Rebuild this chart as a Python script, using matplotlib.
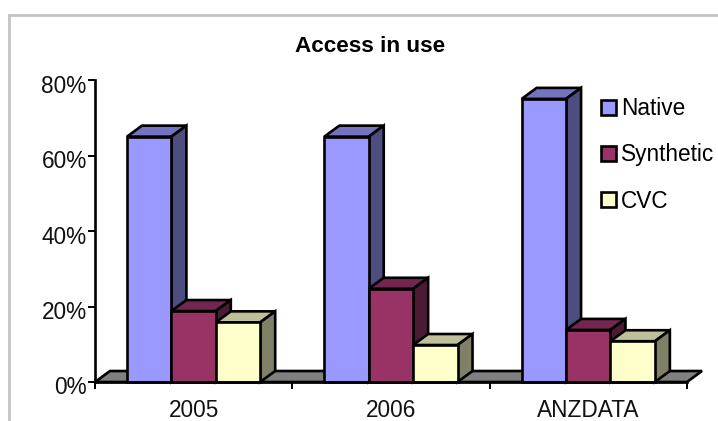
import matplotlib
matplotlib.use("Agg")
import matplotlib.pyplot as plt
from matplotlib.lines import Line2D
from matplotlib.patches import Polygon, Rectangle
from matplotlib.transforms import ScaledTranslation

categories = ["2005", "2006", "ANZDATA"]
series_names = ["Native", "Synthetic", "CVC"]
native = [65, 65, 75]
synthetic = [18.8, 24.7, 13.8]
cvc = [15.8, 9.8, 10.8]
y_ticks = [0, 20, 40, 60, 80]

front_colors = ["#9999FF", "#993366", "#FFFFCC"]
top_colors = ["#7373BF", "#732650", "#BFBF99"]
side_colors = ["#4D4D80", "#4D1A33", "#808066"]

W, H = 718, 421
plt.rcParams["font.family"] = ["Liberation Sans", "DejaVu Sans"]
fig = plt.figure(figsize=(W / 100, H / 100), dpi=100)
ax = fig.add_axes([95 / W, 1 - 382 / H, (687 - 95) / W, (382 - 80) / H])
ax.set_xlim(0, 3)
ax.set_ylim(0, 80)
ax.patch.set_visible(False)

# Oblique depth of the pseudo-3D boxes, in data units
depth_x = 15 / (592 / 3)
depth_y = 11 / (302 / 80)
bar_w = 44.4 / (592 / 3)
lead = 32 / (592 / 3)
edge = dict(edgecolor="black", linewidth=1.9, joinstyle="miter", clip_on=False)

# Floor of the chart
ax.add_patch(Polygon([(0, 0), (depth_x, depth_y), (3 + depth_x, depth_y), (3, 0)],
                     facecolor="#808080", **edge))

# Boxes are painted left to right so each front hides its neighbour's side
all_values = [native, synthetic, cvc]
for c in range(len(categories)):
    for s, values in enumerate(all_values):
        x0 = c + lead + s * bar_w
        x1 = x0 + bar_w
        v = values[c]
        ax.add_patch(Polygon([(x0, v), (x0 + depth_x, v + depth_y),
                              (x1 + depth_x, v + depth_y), (x1, v)],
                             facecolor=top_colors[s], **edge))
        ax.add_patch(Polygon([(x1, 0), (x1 + depth_x, depth_y),
                              (x1 + depth_x, v + depth_y), (x1, v)],
                             facecolor=side_colors[s], **edge))
        ax.add_patch(Rectangle((x0, 0), bar_w, v, facecolor=front_colors[s], **edge))

# Axes
for name in ("top", "right"):
    ax.spines[name].set_visible(False)
for name in ("left", "bottom"):
    ax.spines[name].set_linewidth(1.9)
    ax.spines[name].set_zorder(5)
ax.set_yticks(y_ticks)
ax.set_yticklabels([f"{t}%" for t in y_ticks], fontsize=16.3, color="#111111")
ax.set_xticks([0, 1, 2, 3])
ax.set_xticklabels([])
ax.set_xticks([0.5, 1.5, 2.5], labels=categories, minor=True, fontsize=16.3, color="#111111")
ax.tick_params(axis="x", which="major", length=5, width=1.4)
ax.tick_params(axis="x", which="minor", length=0, pad=12.5)
ax.tick_params(axis="y", length=5, width=1.4, pad=1)

# Percent labels sit a little below their ticks
label_shift = ScaledTranslation(0, -3.5 / 100, fig.dpi_scale_trans)
for label in ax.get_yticklabels():
    label.set_transform(label.get_transform() + label_shift)

fig.text(370 / W, 1 - 47 / H, "Access in use", ha="center", va="center",
         fontsize=16.2, fontweight="bold", color="black")

# Legend
handles = [Rectangle((0, 0), 1, 1, facecolor=col, edgecolor="black", linewidth=1.9)
           for col in front_colors]
ax.legend(handles, series_names, loc="center left",
          bbox_to_anchor=(601 / W, 1 - 155 / H), bbox_transform=fig.transFigure,
          frameon=False, fontsize=16.3, handlelength=0.65, handleheight=0.65,
          handletextpad=0.24, labelspacing=1.02, borderpad=0, borderaxespad=0)

# Grey outer frame along the top and left edges
fig.add_artist(Line2D([8.5 / W, 1], [1 - 15 / H, 1 - 15 / H], color="#C4C4C4", linewidth=2))
fig.add_artist(Line2D([8.5 / W, 8.5 / W], [0, 1 - 15 / H], color="#C4C4C4", linewidth=2))

fig.savefig("out.png", dpi=100)
